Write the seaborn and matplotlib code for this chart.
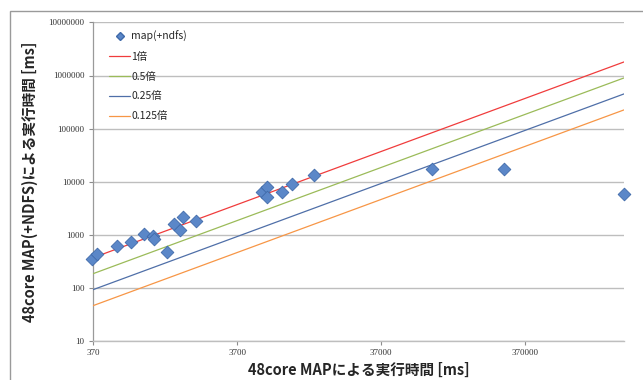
import numpy as np
import pandas as pd
import matplotlib
matplotlib.use("Agg")
import matplotlib.pyplot as plt
from matplotlib.lines import Line2D
from matplotlib.patches import Rectangle
import seaborn as sns

# ---- data ----
x_map = [366, 396, 546, 677, 840, 963, 978, 1204, 1352, 1480, 1560, 1913,
         5497, 5990, 5941, 7550, 8870, 12740, 83200, 265700, 1800000]
y_map = [346, 430, 615, 722, 1035, 962, 845, 468, 1578, 1248, 2138, 1820,
         6310, 8050, 5220, 6340, 9160, 13370, 17100, 17100, 5800]
ratio_labels = ["1倍", "0.5倍", "0.25倍", "0.125倍"]
ratios = [1.0, 0.5, 0.25, 0.125]
line_x = [370, 1800000]
x_ticks = [370, 3700, 37000, 370000]
y_ticks = [10, 100, 1000, 10000, 100000, 1000000, 10000000]
series_label = "map(+ndfs)"
xlabel = "48core MAPによる実行時間 [ms]"
ylabel = "48core MAP(+NDFS)による実行時間 [ms]"

line_colors = ["#F03C3C", "#9BBB59", "#4F6FA8", "#F79646"]
marker_color = "#5B87C8"

sns.set_theme(style="white")
plt.rcParams['font.family'] = ['Noto Sans CJK JP', 'DejaVu Sans']

fig = plt.figure(figsize=(6.43, 3.80), dpi=100)
ax = fig.add_axes([93/643, 1-341/380, (624-93)/643, (341-22.4)/380])

# chart-area border (top & left)
fig.patches.append(Rectangle((10/643, -0.1), 1.2, (1-11/380)+0.1, transform=fig.transFigure,
                             fill=False, edgecolor="#9A9A9A", linewidth=1.0, zorder=0))

ax.set_xscale("log")
ax.set_yscale("log")

# reference lines
rows = []
for lab, r in zip(ratio_labels, ratios):
    for xv in line_x:
        rows.append({"x": xv, "y": xv * r, "series": lab})
df_lines = pd.DataFrame(rows)
sns.lineplot(data=df_lines, x="x", y="y", hue="series", hue_order=ratio_labels,
             palette=line_colors, linewidth=0.9, ax=ax, legend=False, zorder=3)

df_pts = pd.DataFrame({"x": x_map, "y": y_map})
sns.scatterplot(data=df_pts, x="x", y="y", marker="D", s=42, color=marker_color,
                edgecolor="#3F6AAA", linewidth=0.6, ax=ax, zorder=4, legend=False,
                clip_on=False)

ax.set_xlim(370, 1800000)
ax.set_ylim(10, 10000000)
ax.set_xticks(x_ticks)
ax.set_xticklabels([str(v) for v in x_ticks])
ax.set_yticks(y_ticks)
ax.set_yticklabels([str(v) for v in y_ticks])
ax.minorticks_off()
ax.tick_params(axis="both", which="major", labelsize=6.5, length=3, width=0.8,
               color="#8C8C8C", labelcolor="#333333", direction="out", pad=3,
               bottom=True, left=True)
for lab in ax.get_xticklabels() + ax.get_yticklabels():
    lab.set_family(["Liberation Serif", "DejaVu Serif"])

ax.grid(axis="y", color="#BEBEBE", linewidth=1.0)
ax.grid(axis="x", visible=False)
for s in ["top", "right"]:
    ax.spines[s].set_visible(False)
ax.spines["left"].set_color("#9A9A9A")
ax.spines["bottom"].set_color("#BEBEBE")
ax.spines["left"].set_linewidth(0.9)
ax.spines["bottom"].set_linewidth(1.0)

ax.set_xlabel(xlabel, fontsize=10.5, fontweight="bold", labelpad=3)
ax.set_ylabel(ylabel, fontsize=10.5, fontweight="bold", labelpad=8)

handles = [Line2D([], [], marker="D", linestyle="none", color=marker_color,
                  markeredgecolor="#3F6AAA", markersize=4.5)]
for c in line_colors:
    handles.append(Line2D([], [], color=c, linewidth=0.9))
leg = ax.legend(handles, [series_label] + ratio_labels, loc="upper left",
                bbox_to_anchor=(0.015, 1.0), frameon=False, fontsize=7.5,
                labelspacing=0.95, handlelength=2.0, handletextpad=0.1,
                borderpad=0.3)

fig.savefig("out.png", dpi=100)
